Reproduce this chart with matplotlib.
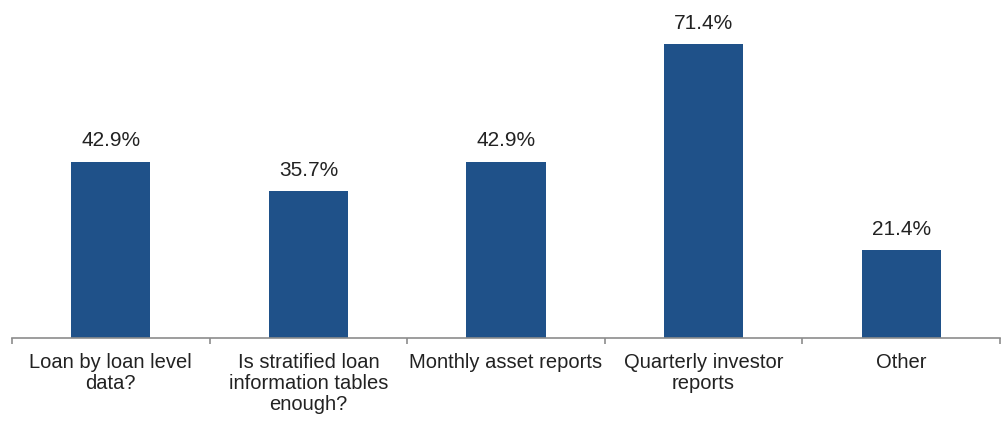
import matplotlib.pyplot as plt
import matplotlib as mpl
import numpy as np

mpl.rcParams["font.family"] = ["Liberation Sans", "DejaVu Sans"]

categories = [
    "Loan by loan level\ndata?",
    "Is stratified loan\ninformation tables\nenough?",
    "Monthly asset reports",
    "Quarterly investor\nreports",
    "Other",
]
values = [42.9, 35.7, 42.9, 71.4, 21.4]
value_labels = ["42.9%", "35.7%", "42.9%", "71.4%", "21.4%"]

bar_color = "#1F5189"
axis_color = "#8C8C8C"
text_color = "#222222"

fig = plt.figure(figsize=(10.07, 4.21), dpi=100)
ax = fig.add_axes([12 / 1007, 83 / 421, 988 / 1007, 329 / 421])

x = np.arange(len(categories))
ax.bar(x, values, width=0.4, color=bar_color, zorder=2)

for xi, v, lab in zip(x, values, value_labels):
    ax.annotate(lab, (xi, v), xytext=(0, 8), textcoords="offset points",
                ha="center", va="bottom", fontsize=15, color=text_color)

ax.set_xlim(-0.5, len(categories) - 0.5)
ax.set_ylim(0, 80)

for side in ["top", "right", "left"]:
    ax.spines[side].set_visible(False)
ax.spines["bottom"].set_color(axis_color)
ax.spines["bottom"].set_linewidth(1.2)

ax.set_yticks([])
# boundary tick marks between categories
ax.set_xticks(np.arange(-0.5, len(categories)), labels=[""] * (len(categories) + 1))
ax.tick_params(axis="x", which="major", length=4, width=1.2, color=axis_color, direction="out")
# labels at category centres
ax.set_xticks(x, labels=categories, minor=True)
ax.tick_params(axis="x", which="minor", length=0, pad=11, labelsize=14.5, labelcolor=text_color)
for t in ax.get_xticklabels(minor=True):
    t.set_linespacing(1.12)

plt.savefig("out.png", dpi=100, facecolor="white")
